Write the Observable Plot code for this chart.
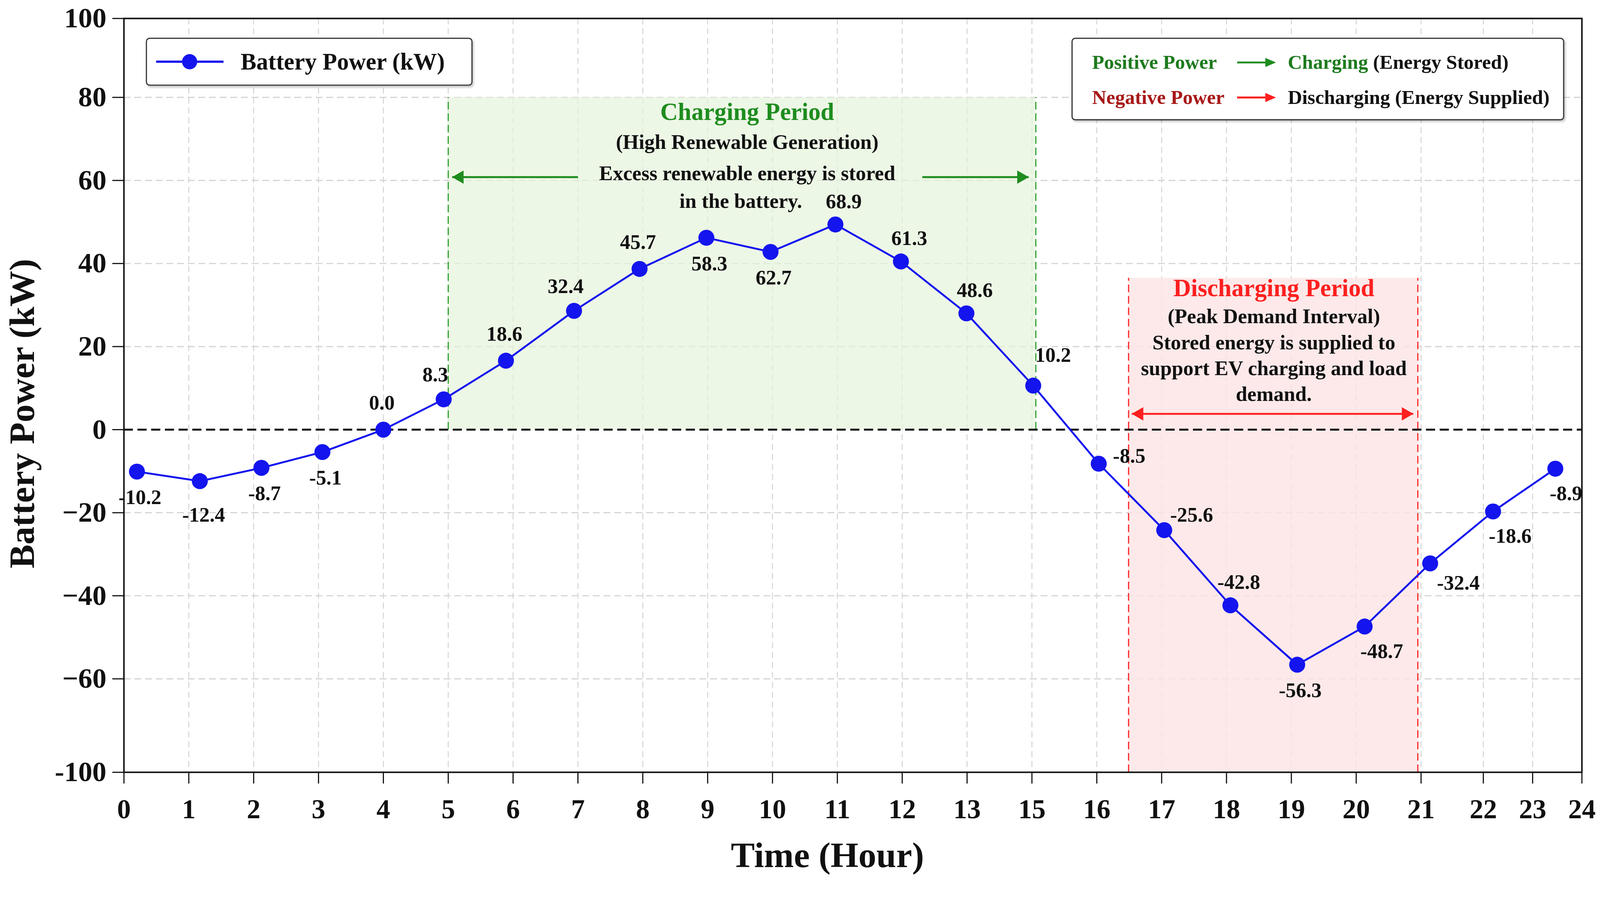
<!DOCTYPE html>
<html><head><meta charset="utf-8">
<script src="https://cdn.jsdelivr.net/npm/d3@7"></script>
<script src="https://cdn.jsdelivr.net/npm/@observablehq/plot@0.6"></script>
<style>
html,body{margin:0;padding:0;background:#fff;overflow:hidden;}
#wrap{position:absolute;left:0;top:0;width:4202px;height:2316px;font-family:"Liberation Serif","Times New Roman",serif;font-weight:bold;overflow:hidden;transform-origin:0 0;}
#wrap svg{display:block;max-width:none;}
.legend{position:absolute;background:#fff;border:3px solid #333;border-radius:10px;box-shadow:3px 4px 6px rgba(0,0,0,0.22);box-sizing:border-box;}
.lt{position:absolute;white-space:nowrap;line-height:1;transform:translateY(-50%);}
</style></head><body><div id="wrap"></div>
<script>
// ---- data ----
// x positions are in "axis slot" units (one slot per printed tick label)
const xTickPos = [0,1,2,3,4,5,6,7,8,9,10,11,12,13,14,15,16,17,18,19,20,20.96,21.72,22.48];
const xTickLabels = ["0","1","2","3","4","5","6","7","8","9","10","11","12","13","15","16","17","18","19","20","21","22","23","24"];
const yTickPos = [99,80,60,40,20,0,-20,-40,-60,-82.5];
const yTickLabels = ["100","80","60","40","20","0","\u221220","\u221240","\u221260","-100"];

const pointX = [0.2,1.17,2.12,3.06,4.0,4.93,5.89,6.94,7.95,8.98,9.97,10.97,11.98,12.99,14.02,15.03,16.04,17.06,18.09,19.13,20.14,21.11,22.07];
const pointY = [-10.1,-12.4,-9.2,-5.4,0,7.3,16.6,28.6,38.7,46.2,42.8,49.4,40.5,28.0,10.6,-8.2,-24.2,-42.3,-56.6,-47.4,-32.2,-19.7,-9.4];
const pointLabels = ["-10.2","-12.4","-8.7","-5.1","0.0","8.3","18.6","32.4","45.7","58.3","62.7","68.9","61.3","48.6","10.2","-8.5","-25.6","-42.8","-56.3","-48.7","-32.4","-18.6","-8.9"];
const labelSide = ["below","belowFar","below","below","above","aboveLeft","above","aboveLeft","above","below","below","aboveRight","aboveRight","aboveRight","farAboveRight","right","upRight","aboveRight","below","belowRight","belowRightHigh","belowRight","belowRightNear"];

const chargeZone = {x1: 5, x2: 14.06, y1: 0, y2: 80};
const dischargeZone = {x1: 15.49, x2: 19.95, y1: -82.5, y2: 36.5};

const chargeTitle = [{x: 9.61, y: 76.4, text: "Charging Period"}];
const chargeNotes = [
  {x: 9.61, y: 69.2, text: "(High Renewable Generation)"},
  {x: 9.61, y: 61.7, text: "Excess renewable energy is stored"},
  {x: 9.51, y: 55.0, text: "in the battery."}
];
const dischargeTitle = [{x: 17.73, y: 34.0, text: "Discharging Period"}];
const dischargeNotes = [
  {x: 17.73, y: 27.2, text: "(Peak Demand Interval)"},
  {x: 17.73, y: 20.9, text: "Stored energy is supplied to"},
  {x: 17.73, y: 14.7, text: "support EV charging and load"},
  {x: 17.73, y: 8.5, text: "demand."}
];
const greenArrows = [
  {x1: 7.0, x2: 5.06, y: 60.8, dir: "left"},
  {x1: 12.31, x2: 13.95, y: 60.8, dir: "right"}
];
const redArrows = [
  {x1: 17.7, x2: 15.54, y: 3.8, dir: "left"},
  {x1: 17.7, x2: 19.88, y: 3.8, dir: "right"}
];

const xTitle = "Time (Hour)";
const yTitle = "Battery Power (kW)";

// ---- build ----
const points = pointX.map((x, i) => ({x, y: pointY[i], label: pointLabels[i], side: labelSide[i]}));
const xLabelMap = new Map(xTickPos.map((p, i) => [p, xTickLabels[i]]));
const yLabelMap = new Map(yTickPos.map((p, i) => [p, yTickLabels[i]]));

const FONT = "Liberation Serif, Times New Roman, serif";
const BLUE = "#1414ee";
const GREEN = "#1e8c1e";
const RED = "#ff1f1f";

const sideOffsets = {
  below: [8, 68], belowFar: [10, 89], above: [-4, -70], aboveLeft: [-22, -64],
  aboveRight: [22, -60], farAboveRight: [52, -80], right: [80, -20], upRight: [72, -40],
  belowRight: [45, 65], belowRightHigh: [74, 52], belowRightNear: [28, 65]
};
const labelMarks = Object.entries(sideOffsets).map(([side, [dx, dy]]) =>
  Plot.text(points.filter(p => p.side === side), {
    x: "x", y: "y", text: "label", dx, dy, fontSize: 54, fontWeight: "bold",
    fill: "#111", lineAnchor: "middle", textAnchor: "middle"
  })
);

function arrowMarks(arr, color) {
  const out = [];
  out.push(Plot.link(arr, {x1: "x1", x2: "x2", y1: "y", y2: "y", stroke: color, strokeWidth: 5}));
  out.push(Plot.dot(arr.filter(a => a.dir === "left"), {x: "x2", y: "y", symbol: "triangle", rotate: -90, r: 13, fill: color, stroke: null, dx: 20}));
  out.push(Plot.dot(arr.filter(a => a.dir === "right"), {x: "x2", y: "y", symbol: "triangle", rotate: 90, r: 13, fill: color, stroke: null, dx: -20}));
  return out;
}

const chart = Plot.plot({
  width: 4202, height: 2316,
  marginLeft: 325, marginRight: 48, marginTop: 48, marginBottom: 289,
  style: {fontFamily: FONT, background: "transparent", overflow: "visible"},
  x: {domain: [0, 22.48]},
  y: {domain: [-82.5, 99]},
  marks: [
    Plot.gridX(xTickPos, {stroke: "#d4d4d4", strokeOpacity: 1, strokeWidth: 2.5, strokeDasharray: "16,10"}),
    Plot.gridY(yTickPos.filter(v => v !== 0), {stroke: "#d4d4d4", strokeOpacity: 1, strokeWidth: 3, strokeDasharray: "18,10"}),
    Plot.rect([chargeZone], {x1: "x1", x2: "x2", y1: "y1", y2: "y2", fill: "#e6f4dc", fillOpacity: 0.7}),
    Plot.rect([dischargeZone], {x1: "x1", x2: "x2", y1: "y1", y2: "y2", fill: "#fde3e4", fillOpacity: 0.8}),
    Plot.ruleX([chargeZone.x1, chargeZone.x2], {y1: chargeZone.y1, y2: chargeZone.y2, stroke: "#2ca02c", strokeWidth: 3, strokeDasharray: "20,10"}),
    Plot.ruleX([dischargeZone.x1, dischargeZone.x2], {y1: dischargeZone.y1, y2: dischargeZone.y2, stroke: RED, strokeWidth: 3, strokeDasharray: "20,10"}),
    Plot.ruleY([0], {stroke: "#111", strokeWidth: 5, strokeDasharray: "24,12"}),
    Plot.axisX(xTickPos, {tickFormat: d => xLabelMap.get(d), tickSize: 30, tickPadding: 40, fontSize: 72, fontWeight: "bold", fill: "#111", stroke: "#111", strokeWidth: 3, label: null}),
    Plot.axisY(yTickPos, {tickFormat: d => yLabelMap.get(d), tickSize: 30, tickPadding: 16, fontSize: 74, fontWeight: "bold", fill: "#111", stroke: "#111", strokeWidth: 3, label: null}),
    Plot.frame({stroke: "#111", strokeWidth: 4}),
    ...arrowMarks(greenArrows, GREEN),
    ...arrowMarks(redArrows, RED),
    Plot.text(chargeTitle, {x: "x", y: "y", text: "text", fill: GREEN, fontSize: 64, fontWeight: "bold", lineAnchor: "middle"}),
    Plot.text(chargeNotes, {x: "x", y: "y", text: "text", fill: "#111", fontSize: 54, fontWeight: "bold", lineAnchor: "middle"}),
    Plot.text(dischargeTitle, {x: "x", y: "y", text: "text", fill: RED, fontSize: 64, fontWeight: "bold", lineAnchor: "middle"}),
    Plot.text(dischargeNotes, {x: "x", y: "y", text: "text", fill: "#111", fontSize: 54, fontWeight: "bold", lineAnchor: "middle"}),
    Plot.line(points, {x: "x", y: "y", stroke: BLUE, strokeWidth: 5}),
    Plot.dot(points, {x: "x", y: "y", r: 21, fill: BLUE, stroke: null}),
    ...labelMarks,
    Plot.text([xTitle], {text: d => d, frameAnchor: "bottom", dx: -67, dy: 219, fontSize: 94, fontWeight: "bold", fill: "#111", lineAnchor: "middle", textAnchor: "middle"}),
    Plot.text([yTitle], {text: d => d, frameAnchor: "left", dx: -266, dy: 48, rotate: -90, fontSize: 94, fontWeight: "bold", fill: "#111", lineAnchor: "middle", textAnchor: "middle"})
  ]
});
const wrap = document.getElementById("wrap");
wrap.appendChild(chart);

// ---- legends (HTML overlays) ----
const lg1 = document.createElement("div");
lg1.className = "legend";
Object.assign(lg1.style, {left: "383px", top: "99px", width: "858px", height: "126px"});
lg1.innerHTML = `<svg width="200" height="60" style="position:absolute;left:21px;top:30px">
  <line x1="3" y1="30" x2="180" y2="30" stroke="${BLUE}" stroke-width="6"/>
  <circle cx="91" cy="30" r="20" fill="${BLUE}"/></svg>
  <span class="lt" style="left:246px;top:60px;font-size:62px;color:#111">${yTitle}</span>`;
wrap.appendChild(lg1);

const lg2 = document.createElement("div");
lg2.className = "legend";
Object.assign(lg2.style, {left: "2814px", top: "99px", width: "1294px", height: "217px"});
function arrowSvg(color, top) {
  return `<svg width="110" height="40" style="position:absolute;left:430px;top:${top - 20}px">
    <line x1="2" y1="20" x2="80" y2="20" stroke="${color}" stroke-width="5"/>
    <polygon points="104,20 76,8 76,32" fill="${color}"/></svg>`;
}
lg2.innerHTML = `
  <span class="lt" style="left:51px;top:62px;font-size:52px;color:#1d7a1d">Positive Power</span>
  ${arrowSvg(GREEN, 62)}
  <span class="lt" style="left:565px;top:62px;font-size:52px;color:#111"><span style="color:#1d7a1d">Charging</span> (Energy Stored)</span>
  <span class="lt" style="left:51px;top:154px;font-size:52px;color:#a81818">Negative Power</span>
  ${arrowSvg(RED, 154)}
  <span class="lt" style="left:565px;top:154px;font-size:52px;color:#111">Discharging (Energy Supplied)</span>`;
wrap.appendChild(lg2);

// fit the 4202×2316 design into the actual viewport
function fit() {
  const s = Math.min(window.innerWidth / 4202, window.innerHeight / 2316, 1);
  wrap.style.transform = s < 1 ? `scale(${s})` : "";
}
fit();
window.addEventListener("resize", fit);
</script>
</body></html>
